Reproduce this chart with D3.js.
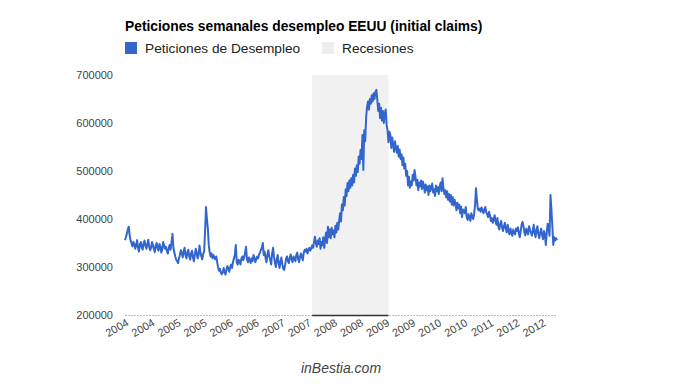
<!DOCTYPE html>
<html>
<head>
<meta charset="utf-8">
<script src="https://cdn.jsdelivr.net/npm/d3@7"></script>
<style>
  body { margin: 0; background: #fff; }
  text { font-family: Arial, "Liberation Sans", sans-serif; }
</style>
</head>
<body>
<div id="chart"></div>
<script>
// weekly initial claims, thousands, starting first week of 2004
const claims2004 = [356, 362, 370, 378, 384, 366, 355, 349, 343, 352, 348,
    338, 345, 356, 340, 332, 347, 352, 341, 336, 350, 355,
    344, 338, 348, 357, 342, 335, 340, 352, 346, 337, 331,
    345, 350, 339, 334, 348, 343, 330, 336, 352, 345, 338,
    342, 333, 328, 340, 346, 336, 352, 369];
const claims2005 = [340, 330, 322, 315, 312, 308, 318, 326, 335, 328, 320,
    333, 340, 325, 318, 330, 336, 322, 315, 328, 334, 320,
    312, 325, 338, 330, 318, 324, 345, 330, 322, 316, 328,
    332, 375, 425, 400, 380, 345, 330, 322, 328, 318, 325,
    320, 316, 322, 310, 300, 292, 296, 288];
const claims2006 = [285, 290, 298, 288, 284, 295, 302, 296, 290, 300, 305,
    298, 310, 318, 325, 346, 310, 305, 315, 312, 305, 318,
    322, 314, 320, 330, 342, 316, 310, 320, 315, 308, 318,
    312, 325, 320, 310, 316, 322, 318, 326, 330, 336, 340,
    350, 325, 332, 318, 310, 326, 335, 322];
const claims2007 = [315, 305, 328, 340, 322, 310, 300, 315, 325, 308, 298,
    312, 320, 305, 296, 294, 305, 318, 322, 312, 308, 320,
    326, 315, 310, 322, 318, 312, 325, 330, 316, 310, 322,
    328, 320, 314, 330, 336, 332, 338, 328, 335, 340, 334,
    338, 345, 340, 352, 363, 350, 342, 355];
const claims2008 = [348, 360, 338, 352, 345, 362, 340, 358, 372, 350, 384,
    362, 378, 360, 382, 368, 376, 362, 386, 372, 392, 378,
    396, 412, 395, 430, 418, 446, 428, 462, 448, 475, 458,
    480, 465, 485, 470, 492, 476, 505, 490, 512, 498, 530,
    515, 544, 525, 575, 502, 585, 562, 612];
const claims2009 = [633, 645, 628, 650, 640, 658, 645, 662, 650, 665, 669,
    648, 625, 640, 610, 632, 605, 625, 600, 620, 628, 596,
    585, 560, 582, 575, 548, 570, 555, 540, 562, 548, 538,
    552, 530, 545, 525, 535, 512, 528, 505, 515, 490, 500,
    470, 488, 465, 478, 470, 492, 480, 502];
const claims2010 = [488, 470, 482, 460, 476, 468, 480, 462, 478, 470, 455,
    472, 460, 468, 450, 470, 458, 466, 474, 455, 462, 448,
    470, 458, 466, 452, 468, 476, 458, 485, 465, 452, 460,
    445, 458, 440, 452, 436, 450, 430, 446, 428, 440, 432,
    418, 434, 422, 430, 412, 426, 404, 420];
const claims2011 = [418, 412, 425, 404, 398, 410, 402, 396, 412, 405, 400,
    410, 430, 464, 440, 420, 418, 422, 415, 424, 418, 412,
    420, 425, 414, 410, 404, 415, 408, 396, 402, 392, 398,
    408, 395, 388, 402, 385, 378, 390, 396, 382, 375, 385,
    392, 380, 372, 388, 375, 368, 380, 372];
const claims2012 = [365, 378, 372, 368, 380, 375, 383, 370, 362, 375, 388,
    394, 385, 372, 366, 380, 375, 368, 385, 378, 372, 365,
    375, 388, 370, 362, 378, 385, 368, 360, 372, 380, 366,
    358, 375, 368, 346, 372, 390, 380, 365, 450, 420, 385,
    346, 362, 355, 360, 356];

const xTickLabels = ["2004", "2004", "2005", "2005", "2006", "2006", "2007", "2007", "2008",
    "2008", "2009", "2009", "2010", "2010", "2011", "2012", "2012"];
const yTicks = [200000, 300000, 400000, 500000, 600000, 700000];
const recessionWeeks = [201, 283];   // first and last week index inside the recession
const legendItems = ["Peticiones de Desempleo", "Recesiones"];

const claims = [].concat(claims2004, claims2005, claims2006, claims2007, claims2008,
    claims2009, claims2010, claims2011, claims2012).map(v => v * 1000);

let width = 680, height = 391;
let margin = { top: 75, right: 123, bottom: 76, left: 125 };

let svg = d3.select("#chart")
    .append("svg")
    .attr("width", width)
    .attr("height", height);

let x = d3.scaleLinear()
    .domain([0, claims.length - 1])
    .range([margin.left, width - margin.right]);

let y = d3.scaleLinear()
    .domain([200000, 700000])
    .range([height - margin.bottom, margin.top]);

// recession band
svg.append("rect")
    .attr("x", x(recessionWeeks[0]))
    .attr("y", y(700000))
    .attr("width", x(recessionWeeks[1]) - x(recessionWeeks[0]))
    .attr("height", y(200000) - y(700000))
    .attr("fill", "#f1f1f1");

// baseline
svg.append("line")
    .attr("x1", x(0)).attr("x2", x(claims.length - 1))
    .attr("y1", y(200000) + 0.5).attr("y2", y(200000) + 0.5)
    .attr("stroke", "#bbb")
    .attr("stroke-dasharray", "2,1");

svg.append("line")
    .attr("x1", x(recessionWeeks[0])).attr("x2", x(recessionWeeks[1]))
    .attr("y1", y(200000) + 0.5).attr("y2", y(200000) + 0.5)
    .attr("stroke", "#333")
    .attr("stroke-width", 1.5);

// y axis
let yAxis = svg.append("g")
    .attr("transform", "translate(" + (margin.left - 12) + ",0)")
    .call(d3.axisLeft(y).tickValues(yTicks).tickSize(0).tickPadding(0).tickFormat(d3.format("d")));
yAxis.select(".domain").remove();
yAxis.selectAll("text")
    .attr("font-size", "11px")
    .attr("fill", "#444");

// x axis, slanted labels
let xAxis = svg.append("g")
    .attr("transform", "translate(0," + (y(200000)) + ")")
    .call(d3.axisBottom(x)
        .tickValues(xTickLabels.map((d, i) => i * 28))
        .tickSize(0)
        .tickFormat((d, i) => xTickLabels[i]));
xAxis.select(".domain").remove();
xAxis.selectAll("text")
    .attr("y", null)
    .attr("dy", null)
    .attr("text-anchor", "end")
    .attr("transform", "translate(4,10) rotate(-30)")
    .attr("font-size", "11px")
    .attr("fill", "#444");

// claims line
let line = d3.line()
    .x(function (d, i) { return x(i); })
    .y(function (d) { return y(d); });

svg.append("path")
    .datum(claims)
    .attr("d", line)
    .attr("fill", "none")
    .attr("stroke", "#3366cc")
    .attr("stroke-width", 2)
    .attr("stroke-linejoin", "round");

// title
svg.append("text")
    .attr("x", 125)
    .attr("y", 31)
    .text("Peticiones semanales desempleo EEUU (initial claims)")
    .attr("font-size", "13.8px")
    .attr("font-weight", "bold")
    .attr("fill", "#000");

// legend
let legendX = [125, 322];
let legendColors = ["#3366cc", "#eeeeee"];
legendItems.forEach(function (d, i) {
    svg.append("rect")
        .attr("x", legendX[i]).attr("y", 42)
        .attr("width", 12).attr("height", 12)
        .attr("fill", legendColors[i]);
    svg.append("text")
        .attr("x", legendX[i] + 20)
        .attr("y", 53)
        .text(d)
        .attr("font-size", "13.7px")
        .attr("fill", "#222");
});

// footer
svg.append("text")
    .attr("x", 341)
    .attr("y", 373)
    .attr("text-anchor", "middle")
    .text("inBestia.com")
    .attr("font-size", "14px")
    .attr("font-style", "italic")
    .attr("fill", "#444");
</script>
</body>
</html>
